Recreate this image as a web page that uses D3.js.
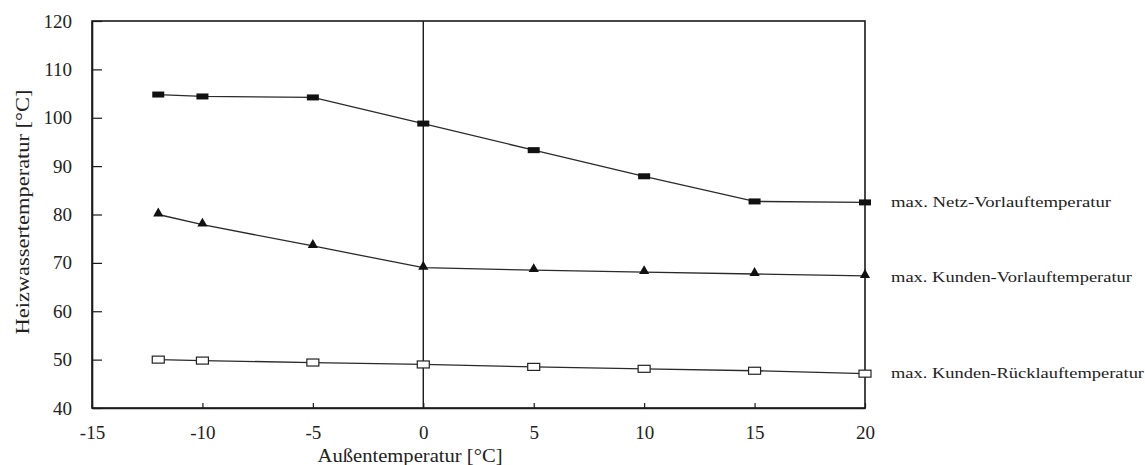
<!DOCTYPE html>
<html>
<head>
<meta charset="utf-8">
<script src="https://cdn.jsdelivr.net/npm/d3@7"></script>
<style>
  body { margin: 0; background: #fff; }
  text { font-family: "Liberation Serif", "DejaVu Serif", serif; fill: #222; }
</style>
</head>
<body>
<svg id="chart" width="1145" height="465"></svg>
<script>
// outdoor temperature (x) and the three curves
var outdoorTemps = [-12, -10, -5, 0, 5, 10, 15, 20];
var netzVorlauf = [104.8, 104.4, 104.2, 98.8, 93.3, 87.9, 82.7, 82.5];
var kundenVorlauf = [80, 77.9, 73.5, 69, 68.5, 68.1, 67.7, 67.3];
var kundenRuecklauf = [50, 49.8, 49.4, 49, 48.5, 48.1, 47.7, 47.1];
var seriesNames = ["max. Netz-Vorlauftemperatur", "max. Kunden-Vorlauftemperatur", "max. Kunden-Rücklauftemperatur"];
var xTicks = [-15, -10, -5, 0, 5, 10, 15, 20];
var yTicks = [40, 50, 60, 70, 80, 90, 100, 110, 120];

var svg = d3.select("#chart");
var margin = { top: 21, right: 280, bottom: 57, left: 92 };
var width = +svg.attr("width") - margin.left - margin.right;
var height = +svg.attr("height") - margin.top - margin.bottom;

var g = svg.append("g")
    .attr("transform", "translate(" + margin.left + "," + margin.top + ")");

var x = d3.scaleLinear().domain([-15, 20]).range([0, width]);
var y = d3.scaleLinear().domain([40, 120]).range([height, 0]);

// frame
g.append("rect")
    .attr("x", 0).attr("y", 0)
    .attr("width", width).attr("height", height)
    .attr("fill", "none")
    .attr("stroke", "#1a1a1a")
    .attr("stroke-width", 1.6);

// vertical line at 0 degrees
g.append("line")
    .attr("x1", x(0)).attr("x2", x(0))
    .attr("y1", 0).attr("y2", height)
    .attr("stroke", "#1a1a1a")
    .attr("stroke-width", 1.4);

// axes with inward ticks, plain hyphen for negatives
var xAxis = g.append("g")
    .attr("transform", "translate(0," + height + ")")
    .call(d3.axisBottom(x).tickValues(xTicks).tickFormat(function(d) { return String(d); })
        .tickSizeInner(-5).tickSizeOuter(0).tickPadding(18));

var yAxis = g.append("g")
    .call(d3.axisLeft(y).tickValues(yTicks).tickSizeInner(-10).tickSizeOuter(0).tickPadding(20));

[xAxis, yAxis].forEach(function(ax) {
    ax.select(".domain").attr("stroke", "#1a1a1a").attr("stroke-width", 1.6);
    ax.selectAll(".tick line").attr("stroke", "#1a1a1a").attr("stroke-width", 1.2);
    ax.selectAll(".tick text")
        .style("font-family", "Liberation Serif")
        .style("font-size", "19px")
        .attr("fill", "#222");
});

// axis titles
g.append("text")
    .attr("x", x(-0.6))
    .attr("y", height + 54)
    .attr("text-anchor", "middle")
    .attr("textLength", 185)
    .attr("lengthAdjust", "spacingAndGlyphs")
    .style("font-size", "18px")
    .text("Außentemperatur [°C]");

g.append("text")
    .attr("transform", "rotate(-90)")
    .attr("x", -(212 - margin.top))
    .attr("y", -margin.left + 29)
    .attr("text-anchor", "middle")
    .attr("textLength", 245)
    .attr("lengthAdjust", "spacingAndGlyphs")
    .style("font-size", "18px")
    .text("Heizwassertemperatur [°C]");

var series = [netzVorlauf, kundenVorlauf, kundenRuecklauf];
var line = d3.line()
    .x(function(d, i) { return x(outdoorTemps[i]); })
    .y(function(d) { return y(d); });

series.forEach(function(values) {
    g.append("path")
        .datum(values)
        .attr("d", line)
        .attr("fill", "none")
        .attr("stroke", "#2a2a2a")
        .attr("stroke-width", 1.3);
});

// markers: filled boxes, filled triangles, open boxes
g.selectAll(".m-netz")
    .data(netzVorlauf)
    .enter().append("rect")
    .attr("class", "m-netz")
    .attr("x", function(d, i) { return x(outdoorTemps[i]) - 6; })
    .attr("y", function(d) { return y(d) - 3; })
    .attr("width", 12).attr("height", 6)
    .attr("fill", "#111");

var tri = d3.symbol().type(d3.symbolTriangle).size(45);
g.selectAll(".m-kv")
    .data(kundenVorlauf)
    .enter().append("path")
    .attr("class", "m-kv")
    .attr("d", tri)
    .attr("transform", function(d, i) { return "translate(" + x(outdoorTemps[i]) + "," + (y(d) - 1) + ")"; })
    .attr("fill", "#111");

g.selectAll(".m-kr")
    .data(kundenRuecklauf)
    .enter().append("rect")
    .attr("class", "m-kr")
    .attr("x", function(d, i) { return x(outdoorTemps[i]) - 6; })
    .attr("y", function(d) { return y(d) - 3.5; })
    .attr("width", 12).attr("height", 7)
    .attr("fill", "#fff")
    .attr("stroke", "#222")
    .attr("stroke-width", 1.2);

// labels at line ends
var labelWidths = [220, 241, 253];
var labelOffsets = [-1, 1, -1];
series.forEach(function(values, i) {
    g.append("text")
        .attr("x", width + 26)
        .attr("y", y(values[values.length - 1]) + labelOffsets[i])
        .attr("dy", "0.35em")
        .attr("textLength", labelWidths[i])
        .attr("lengthAdjust", "spacingAndGlyphs")
        .style("font-size", "15px")
        .text(seriesNames[i]);
});
</script>
</body>
</html>
